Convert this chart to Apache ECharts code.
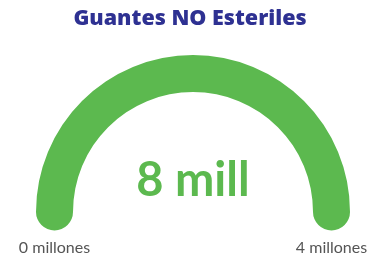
<!DOCTYPE html>
<html>
<head>
<meta charset="utf-8">
<script src="https://cdn.jsdelivr.net/npm/echarts@6/dist/echarts.min.js"></script>
<style>html,body{margin:0;padding:0;background:#fff}#c{width:380px;height:261px}</style>
</head>
<body>
<div id="c"></div>
<script>
const titleText = 'Guantes NO Esteriles';
const gaugeMin = 0;
const gaugeMax = 4;
const gaugeValue = 8;
const valueLabel = '8 mill';
const tickLabels = ['0 millones', '4 millones'];

const green = '#5cb94f';
const chart = echarts.init(document.getElementById('c'), null, {renderer: 'canvas'});
const cx = 193, cy = 212, R = 157, W = 37;
const mid = R - W / 2;
chart.setOption({
  animation: false,
  title: {
    text: titleText, left: 'center', top: 3,
    textStyle: {fontFamily: 'Open Sans', fontWeight: 800, fontSize: 21.5, color: '#2e3192'}
  },
  series: [{
    type: 'gauge',
    center: [cx, cy], radius: R,
    startAngle: 180, endAngle: 0,
    min: gaugeMin, max: gaugeMax,
    axisLine: {roundCap: true, lineStyle: {width: W, color: [[1, green]]}},
    progress: {show: false},
    pointer: {show: false}, anchor: {show: false},
    axisTick: {show: false}, splitLine: {show: false}, axisLabel: {show: false},
    title: {show: false},
    detail: {
      valueAnimation: false, offsetCenter: [0, -31],
      formatter: () => valueLabel,
      fontFamily: 'Lato', fontWeight: 'bold', fontSize: 47, color: green
    },
    data: [{value: gaugeValue}]
  }],
  graphic: tickLabels.map((t, i) => ({
    type: 'text',
    x: i === 0 ? cx - mid : cx + mid, y: 248,
    style: {text: t, fontFamily: 'Lato', fontSize: 16, fill: '#555', align: 'center', verticalAlign: 'middle'}
  }))
});
</script>
</body>
</html>
